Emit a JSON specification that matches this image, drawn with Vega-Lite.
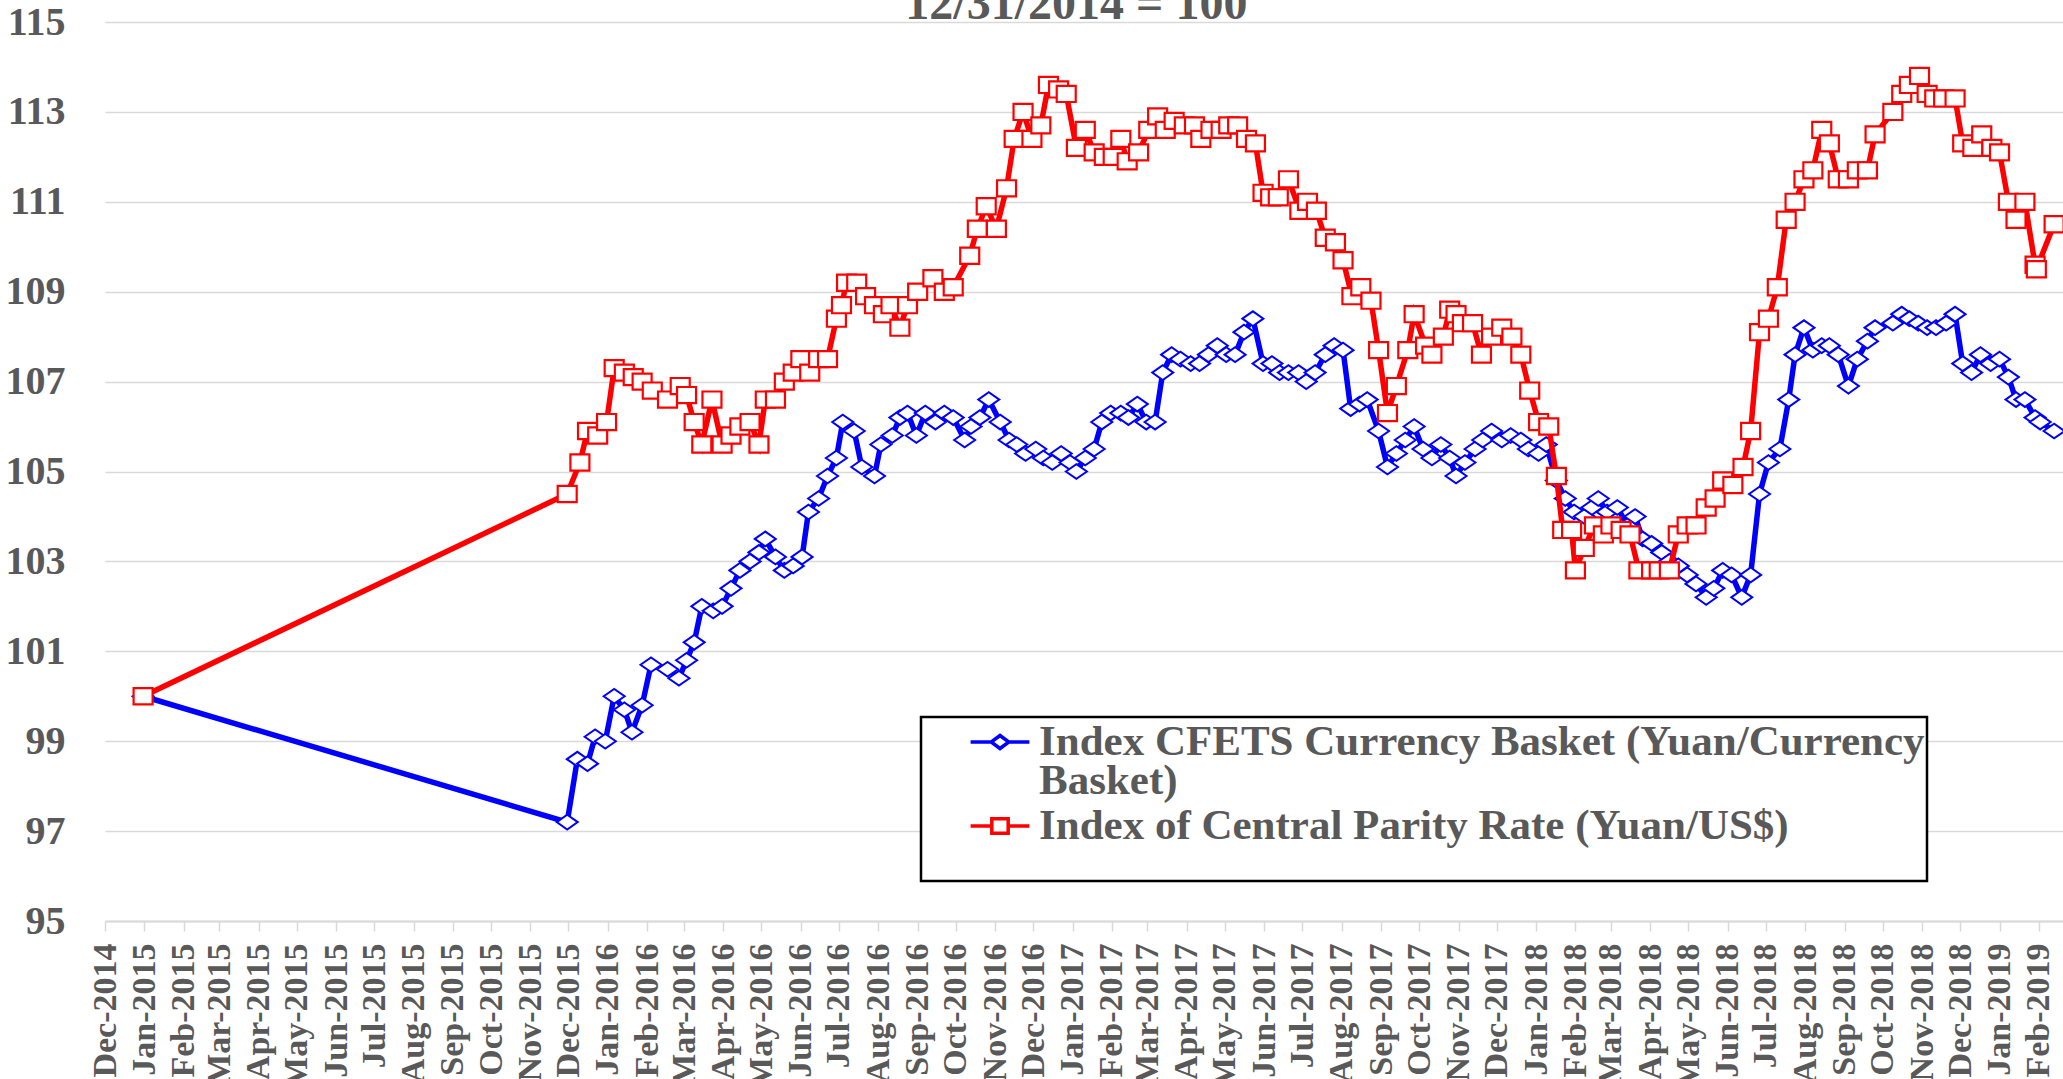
{
"$schema": "https://vega.github.io/schema/vega-lite/v6.json",
"autosize": {"type": "none"},
"width": 1958,
"height": 899,
"padding": {"left": 105, "top": 22, "right": 0, "bottom": 158},
"background": "white",
"config": {"view": {"stroke": null}},
"data": {"values": [
{"date":"2014-12-31","s":"parity","v":100.0},
{"date":"2015-11-30","s":"parity","v":104.5},
{"date":"2015-12-10","s":"parity","v":105.2},
{"date":"2015-12-16","s":"parity","v":105.9},
{"date":"2015-12-24","s":"parity","v":105.8},
{"date":"2015-12-31","s":"parity","v":106.1},
{"date":"2016-01-06","s":"parity","v":107.3},
{"date":"2016-01-14","s":"parity","v":107.2},
{"date":"2016-01-21","s":"parity","v":107.1},
{"date":"2016-01-28","s":"parity","v":107.0},
{"date":"2016-02-05","s":"parity","v":106.8},
{"date":"2016-02-17","s":"parity","v":106.6},
{"date":"2016-02-27","s":"parity","v":106.9},
{"date":"2016-03-03","s":"parity","v":106.7},
{"date":"2016-03-09","s":"parity","v":106.1},
{"date":"2016-03-15","s":"parity","v":105.6},
{"date":"2016-03-23","s":"parity","v":106.6},
{"date":"2016-03-31","s":"parity","v":105.6},
{"date":"2016-04-07","s":"parity","v":105.8},
{"date":"2016-04-14","s":"parity","v":106.0},
{"date":"2016-04-22","s":"parity","v":106.1},
{"date":"2016-04-29","s":"parity","v":105.6},
{"date":"2016-05-04","s":"parity","v":106.6},
{"date":"2016-05-12","s":"parity","v":106.6},
{"date":"2016-05-19","s":"parity","v":107.0},
{"date":"2016-05-26","s":"parity","v":107.2},
{"date":"2016-06-01","s":"parity","v":107.5},
{"date":"2016-06-08","s":"parity","v":107.2},
{"date":"2016-06-15","s":"parity","v":107.5},
{"date":"2016-06-22","s":"parity","v":107.5},
{"date":"2016-06-29","s":"parity","v":108.4},
{"date":"2016-07-03","s":"parity","v":108.7},
{"date":"2016-07-07","s":"parity","v":109.2},
{"date":"2016-07-15","s":"parity","v":109.2},
{"date":"2016-07-22","s":"parity","v":108.9},
{"date":"2016-07-29","s":"parity","v":108.7},
{"date":"2016-08-05","s":"parity","v":108.5},
{"date":"2016-08-11","s":"parity","v":108.7},
{"date":"2016-08-18","s":"parity","v":108.2},
{"date":"2016-08-24","s":"parity","v":108.7},
{"date":"2016-09-01","s":"parity","v":109.0},
{"date":"2016-09-13","s":"parity","v":109.3},
{"date":"2016-09-22","s":"parity","v":109.0},
{"date":"2016-09-29","s":"parity","v":109.1},
{"date":"2016-10-12","s":"parity","v":109.8},
{"date":"2016-10-18","s":"parity","v":110.4},
{"date":"2016-10-25","s":"parity","v":110.9},
{"date":"2016-11-02","s":"parity","v":110.4},
{"date":"2016-11-10","s":"parity","v":111.3},
{"date":"2016-11-16","s":"parity","v":112.4},
{"date":"2016-11-23","s":"parity","v":113.0},
{"date":"2016-11-30","s":"parity","v":112.4},
{"date":"2016-12-07","s":"parity","v":112.7},
{"date":"2016-12-13","s":"parity","v":113.6},
{"date":"2016-12-21","s":"parity","v":113.5},
{"date":"2016-12-27","s":"parity","v":113.4},
{"date":"2017-01-04","s":"parity","v":112.2},
{"date":"2017-01-11","s":"parity","v":112.6},
{"date":"2017-01-18","s":"parity","v":112.1},
{"date":"2017-01-26","s":"parity","v":112.0},
{"date":"2017-02-02","s":"parity","v":112.0},
{"date":"2017-02-08","s":"parity","v":112.4},
{"date":"2017-02-13","s":"parity","v":111.9},
{"date":"2017-02-22","s":"parity","v":112.1},
{"date":"2017-03-02","s":"parity","v":112.6},
{"date":"2017-03-09","s":"parity","v":112.9},
{"date":"2017-03-15","s":"parity","v":112.6},
{"date":"2017-03-22","s":"parity","v":112.8},
{"date":"2017-03-30","s":"parity","v":112.7},
{"date":"2017-04-07","s":"parity","v":112.7},
{"date":"2017-04-12","s":"parity","v":112.4},
{"date":"2017-04-20","s":"parity","v":112.6},
{"date":"2017-04-28","s":"parity","v":112.6},
{"date":"2017-05-04","s":"parity","v":112.7},
{"date":"2017-05-11","s":"parity","v":112.7},
{"date":"2017-05-18","s":"parity","v":112.4},
{"date":"2017-05-25","s":"parity","v":112.3},
{"date":"2017-05-31","s":"parity","v":111.2},
{"date":"2017-06-06","s":"parity","v":111.1},
{"date":"2017-06-12","s":"parity","v":111.1},
{"date":"2017-06-20","s":"parity","v":111.5},
{"date":"2017-06-29","s":"parity","v":110.8},
{"date":"2017-07-05","s":"parity","v":111.0},
{"date":"2017-07-12","s":"parity","v":110.8},
{"date":"2017-07-19","s":"parity","v":110.2},
{"date":"2017-07-27","s":"parity","v":110.1},
{"date":"2017-08-02","s":"parity","v":109.7},
{"date":"2017-08-09","s":"parity","v":108.9},
{"date":"2017-08-16","s":"parity","v":109.1},
{"date":"2017-08-24","s":"parity","v":108.8},
{"date":"2017-08-30","s":"parity","v":107.7},
{"date":"2017-09-06","s":"parity","v":106.3},
{"date":"2017-09-13","s":"parity","v":106.9},
{"date":"2017-09-22","s":"parity","v":107.7},
{"date":"2017-09-27","s":"parity","v":108.5},
{"date":"2017-10-06","s":"parity","v":107.8},
{"date":"2017-10-11","s":"parity","v":107.6},
{"date":"2017-10-20","s":"parity","v":108.0},
{"date":"2017-10-25","s":"parity","v":108.6},
{"date":"2017-10-30","s":"parity","v":108.5},
{"date":"2017-11-04","s":"parity","v":108.3},
{"date":"2017-11-12","s":"parity","v":108.3},
{"date":"2017-11-19","s":"parity","v":107.6},
{"date":"2017-11-27","s":"parity","v":108.0},
{"date":"2017-12-05","s":"parity","v":108.2},
{"date":"2017-12-13","s":"parity","v":108.0},
{"date":"2017-12-20","s":"parity","v":107.6},
{"date":"2017-12-27","s":"parity","v":106.8},
{"date":"2018-01-03","s":"parity","v":106.1},
{"date":"2018-01-11","s":"parity","v":106.0},
{"date":"2018-01-17","s":"parity","v":104.9},
{"date":"2018-01-22","s":"parity","v":103.7},
{"date":"2018-01-29","s":"parity","v":103.7},
{"date":"2018-02-01","s":"parity","v":102.8},
{"date":"2018-02-08","s":"parity","v":103.3},
{"date":"2018-02-16","s":"parity","v":103.8},
{"date":"2018-02-23","s":"parity","v":103.6},
{"date":"2018-03-01","s":"parity","v":103.8},
{"date":"2018-03-09","s":"parity","v":103.7},
{"date":"2018-03-16","s":"parity","v":103.6},
{"date":"2018-03-23","s":"parity","v":102.8},
{"date":"2018-04-02","s":"parity","v":102.8},
{"date":"2018-04-08","s":"parity","v":102.8},
{"date":"2018-04-16","s":"parity","v":102.8},
{"date":"2018-04-23","s":"parity","v":103.6},
{"date":"2018-04-30","s":"parity","v":103.8},
{"date":"2018-05-07","s":"parity","v":103.8},
{"date":"2018-05-15","s":"parity","v":104.2},
{"date":"2018-05-22","s":"parity","v":104.4},
{"date":"2018-05-28","s":"parity","v":104.8},
{"date":"2018-06-05","s":"parity","v":104.7},
{"date":"2018-06-13","s":"parity","v":105.1},
{"date":"2018-06-19","s":"parity","v":105.9},
{"date":"2018-06-26","s":"parity","v":108.1},
{"date":"2018-07-03","s":"parity","v":108.4},
{"date":"2018-07-10","s":"parity","v":109.1},
{"date":"2018-07-17","s":"parity","v":110.6},
{"date":"2018-07-24","s":"parity","v":111.0},
{"date":"2018-07-31","s":"parity","v":111.5},
{"date":"2018-08-07","s":"parity","v":111.7},
{"date":"2018-08-14","s":"parity","v":112.6},
{"date":"2018-08-20","s":"parity","v":112.3},
{"date":"2018-08-27","s":"parity","v":111.5},
{"date":"2018-09-04","s":"parity","v":111.5},
{"date":"2018-09-11","s":"parity","v":111.7},
{"date":"2018-09-19","s":"parity","v":111.7},
{"date":"2018-09-25","s":"parity","v":112.5},
{"date":"2018-10-09","s":"parity","v":113.0},
{"date":"2018-10-16","s":"parity","v":113.4},
{"date":"2018-10-22","s":"parity","v":113.6},
{"date":"2018-10-30","s":"parity","v":113.8},
{"date":"2018-11-05","s":"parity","v":113.4},
{"date":"2018-11-11","s":"parity","v":113.3},
{"date":"2018-11-18","s":"parity","v":113.3},
{"date":"2018-11-27","s":"parity","v":113.3},
{"date":"2018-12-03","s":"parity","v":112.3},
{"date":"2018-12-11","s":"parity","v":112.2},
{"date":"2018-12-18","s":"parity","v":112.5},
{"date":"2018-12-26","s":"parity","v":112.2},
{"date":"2019-01-01","s":"parity","v":112.1},
{"date":"2019-01-08","s":"parity","v":111.0},
{"date":"2019-01-14","s":"parity","v":110.6},
{"date":"2019-01-21","s":"parity","v":111.0},
{"date":"2019-01-29","s":"parity","v":109.6},
{"date":"2019-01-30","s":"parity","v":109.5},
{"date":"2019-02-13","s":"parity","v":110.5},
{"date":"2014-12-31","s":"cfets","v":100.0},
{"date":"2015-11-30","s":"cfets","v":97.2},
{"date":"2015-12-08","s":"cfets","v":98.6},
{"date":"2015-12-16","s":"cfets","v":98.5},
{"date":"2015-12-22","s":"cfets","v":99.1},
{"date":"2015-12-30","s":"cfets","v":99.0},
{"date":"2016-01-06","s":"cfets","v":100.0},
{"date":"2016-01-14","s":"cfets","v":99.7},
{"date":"2016-01-20","s":"cfets","v":99.2},
{"date":"2016-01-28","s":"cfets","v":99.8},
{"date":"2016-02-04","s":"cfets","v":100.7},
{"date":"2016-02-17","s":"cfets","v":100.6},
{"date":"2016-02-26","s":"cfets","v":100.4},
{"date":"2016-03-03","s":"cfets","v":100.8},
{"date":"2016-03-09","s":"cfets","v":101.2},
{"date":"2016-03-15","s":"cfets","v":102.0},
{"date":"2016-03-24","s":"cfets","v":101.9},
{"date":"2016-03-31","s":"cfets","v":102.0},
{"date":"2016-04-07","s":"cfets","v":102.4},
{"date":"2016-04-14","s":"cfets","v":102.8},
{"date":"2016-04-22","s":"cfets","v":103.0},
{"date":"2016-04-29","s":"cfets","v":103.2},
{"date":"2016-05-04","s":"cfets","v":103.5},
{"date":"2016-05-12","s":"cfets","v":103.1},
{"date":"2016-05-19","s":"cfets","v":102.8},
{"date":"2016-05-26","s":"cfets","v":102.9},
{"date":"2016-06-02","s":"cfets","v":103.1},
{"date":"2016-06-07","s":"cfets","v":104.1},
{"date":"2016-06-15","s":"cfets","v":104.4},
{"date":"2016-06-22","s":"cfets","v":104.9},
{"date":"2016-06-29","s":"cfets","v":105.3},
{"date":"2016-07-04","s":"cfets","v":106.1},
{"date":"2016-07-13","s":"cfets","v":105.9},
{"date":"2016-07-19","s":"cfets","v":105.1},
{"date":"2016-07-29","s":"cfets","v":104.9},
{"date":"2016-08-03","s":"cfets","v":105.6},
{"date":"2016-08-12","s":"cfets","v":105.8},
{"date":"2016-08-18","s":"cfets","v":106.2},
{"date":"2016-08-24","s":"cfets","v":106.3},
{"date":"2016-08-31","s":"cfets","v":105.8},
{"date":"2016-09-07","s":"cfets","v":106.3},
{"date":"2016-09-15","s":"cfets","v":106.1},
{"date":"2016-09-22","s":"cfets","v":106.3},
{"date":"2016-09-29","s":"cfets","v":106.2},
{"date":"2016-10-08","s":"cfets","v":105.7},
{"date":"2016-10-13","s":"cfets","v":106.0},
{"date":"2016-10-20","s":"cfets","v":106.2},
{"date":"2016-10-27","s":"cfets","v":106.6},
{"date":"2016-11-05","s":"cfets","v":106.1},
{"date":"2016-11-12","s":"cfets","v":105.7},
{"date":"2016-11-18","s":"cfets","v":105.6},
{"date":"2016-11-25","s":"cfets","v":105.4},
{"date":"2016-12-03","s":"cfets","v":105.5},
{"date":"2016-12-09","s":"cfets","v":105.3},
{"date":"2016-12-16","s":"cfets","v":105.2},
{"date":"2016-12-23","s":"cfets","v":105.4},
{"date":"2016-12-30","s":"cfets","v":105.2},
{"date":"2017-01-04","s":"cfets","v":105.0},
{"date":"2017-01-11","s":"cfets","v":105.3},
{"date":"2017-01-18","s":"cfets","v":105.5},
{"date":"2017-01-24","s":"cfets","v":106.1},
{"date":"2017-01-31","s":"cfets","v":106.3},
{"date":"2017-02-08","s":"cfets","v":106.3},
{"date":"2017-02-14","s":"cfets","v":106.2},
{"date":"2017-02-21","s":"cfets","v":106.5},
{"date":"2017-02-28","s":"cfets","v":106.1},
{"date":"2017-03-07","s":"cfets","v":106.1},
{"date":"2017-03-13","s":"cfets","v":107.2},
{"date":"2017-03-20","s":"cfets","v":107.6},
{"date":"2017-03-27","s":"cfets","v":107.5},
{"date":"2017-04-04","s":"cfets","v":107.4},
{"date":"2017-04-11","s":"cfets","v":107.4},
{"date":"2017-04-18","s":"cfets","v":107.6},
{"date":"2017-04-25","s":"cfets","v":107.8},
{"date":"2017-05-02","s":"cfets","v":107.6},
{"date":"2017-05-09","s":"cfets","v":107.6},
{"date":"2017-05-16","s":"cfets","v":108.1},
{"date":"2017-05-23","s":"cfets","v":108.4},
{"date":"2017-05-31","s":"cfets","v":107.4},
{"date":"2017-06-07","s":"cfets","v":107.4},
{"date":"2017-06-13","s":"cfets","v":107.2},
{"date":"2017-06-20","s":"cfets","v":107.2},
{"date":"2017-06-28","s":"cfets","v":107.2},
{"date":"2017-07-04","s":"cfets","v":107.0},
{"date":"2017-07-11","s":"cfets","v":107.2},
{"date":"2017-07-19","s":"cfets","v":107.6},
{"date":"2017-07-26","s":"cfets","v":107.8},
{"date":"2017-08-02","s":"cfets","v":107.7},
{"date":"2017-08-08","s":"cfets","v":106.4},
{"date":"2017-08-15","s":"cfets","v":106.5},
{"date":"2017-08-21","s":"cfets","v":106.6},
{"date":"2017-08-30","s":"cfets","v":105.9},
{"date":"2017-09-06","s":"cfets","v":105.1},
{"date":"2017-09-13","s":"cfets","v":105.4},
{"date":"2017-09-20","s":"cfets","v":105.7},
{"date":"2017-09-27","s":"cfets","v":106.0},
{"date":"2017-10-04","s":"cfets","v":105.5},
{"date":"2017-10-11","s":"cfets","v":105.3},
{"date":"2017-10-18","s":"cfets","v":105.6},
{"date":"2017-10-25","s":"cfets","v":105.3},
{"date":"2017-10-30","s":"cfets","v":104.9},
{"date":"2017-11-06","s":"cfets","v":105.2},
{"date":"2017-11-14","s":"cfets","v":105.5},
{"date":"2017-11-20","s":"cfets","v":105.7},
{"date":"2017-11-27","s":"cfets","v":105.9},
{"date":"2017-12-05","s":"cfets","v":105.7},
{"date":"2017-12-12","s":"cfets","v":105.8},
{"date":"2017-12-20","s":"cfets","v":105.7},
{"date":"2017-12-26","s":"cfets","v":105.5},
{"date":"2018-01-03","s":"cfets","v":105.4},
{"date":"2018-01-09","s":"cfets","v":105.6},
{"date":"2018-01-17","s":"cfets","v":104.8},
{"date":"2018-01-24","s":"cfets","v":104.4},
{"date":"2018-01-31","s":"cfets","v":104.1},
{"date":"2018-02-08","s":"cfets","v":104.0},
{"date":"2018-02-14","s":"cfets","v":104.2},
{"date":"2018-02-19","s":"cfets","v":104.4},
{"date":"2018-02-26","s":"cfets","v":104.1},
{"date":"2018-03-06","s":"cfets","v":104.2},
{"date":"2018-03-14","s":"cfets","v":103.8},
{"date":"2018-03-20","s":"cfets","v":104.0},
{"date":"2018-03-26","s":"cfets","v":103.5},
{"date":"2018-04-02","s":"cfets","v":103.4},
{"date":"2018-04-10","s":"cfets","v":103.2},
{"date":"2018-04-16","s":"cfets","v":103.0},
{"date":"2018-04-23","s":"cfets","v":102.9},
{"date":"2018-04-30","s":"cfets","v":102.7},
{"date":"2018-05-07","s":"cfets","v":102.5},
{"date":"2018-05-15","s":"cfets","v":102.2},
{"date":"2018-05-21","s":"cfets","v":102.4},
{"date":"2018-05-28","s":"cfets","v":102.8},
{"date":"2018-06-04","s":"cfets","v":102.7},
{"date":"2018-06-12","s":"cfets","v":102.2},
{"date":"2018-06-19","s":"cfets","v":102.7},
{"date":"2018-06-26","s":"cfets","v":104.5},
{"date":"2018-07-03","s":"cfets","v":105.2},
{"date":"2018-07-12","s":"cfets","v":105.5},
{"date":"2018-07-19","s":"cfets","v":106.6},
{"date":"2018-07-24","s":"cfets","v":107.6},
{"date":"2018-07-31","s":"cfets","v":108.2},
{"date":"2018-08-07","s":"cfets","v":107.7},
{"date":"2018-08-14","s":"cfets","v":107.8},
{"date":"2018-08-20","s":"cfets","v":107.8},
{"date":"2018-08-27","s":"cfets","v":107.6},
{"date":"2018-09-04","s":"cfets","v":106.9},
{"date":"2018-09-11","s":"cfets","v":107.5},
{"date":"2018-09-19","s":"cfets","v":107.9},
{"date":"2018-09-25","s":"cfets","v":108.2},
{"date":"2018-10-09","s":"cfets","v":108.3},
{"date":"2018-10-16","s":"cfets","v":108.5},
{"date":"2018-10-22","s":"cfets","v":108.4},
{"date":"2018-10-29","s":"cfets","v":108.3},
{"date":"2018-11-05","s":"cfets","v":108.2},
{"date":"2018-11-12","s":"cfets","v":108.2},
{"date":"2018-11-20","s":"cfets","v":108.3},
{"date":"2018-11-27","s":"cfets","v":108.5},
{"date":"2018-12-03","s":"cfets","v":107.4},
{"date":"2018-12-10","s":"cfets","v":107.2},
{"date":"2018-12-17","s":"cfets","v":107.6},
{"date":"2018-12-25","s":"cfets","v":107.4},
{"date":"2019-01-01","s":"cfets","v":107.5},
{"date":"2019-01-08","s":"cfets","v":107.1},
{"date":"2019-01-14","s":"cfets","v":106.6},
{"date":"2019-01-21","s":"cfets","v":106.6},
{"date":"2019-01-29","s":"cfets","v":106.2},
{"date":"2019-02-02","s":"cfets","v":106.1},
{"date":"2019-02-13","s":"cfets","v":105.9}
]},
"encoding": {
  "x": {"field": "date", "type": "temporal",
    "scale": {"type": "utc", "domain": [{"year": 2014, "month": 12, "date": 1, "utc": true}, {"year": 2019, "month": 2, "date": 20, "utc": true}]},
    "axis": {"title": null, "labelExpr": "utcFormat(datum.value, '%b-%Y')", "tickCount": {"interval": "month", "step": 1},
      "labelAngle": -90, "labelFont": "Liberation Serif", "labelFontWeight": "bold", "labelFontSize": 34, "labelColor": "#595959",
      "labelOverlap": false, "labelFlush": false, "labelBound": false, "labelPadding": 12,
      "grid": false, "domainColor": "#d9d9d9", "domainWidth": 2, "tickColor": "#d9d9d9", "tickWidth": 1.5, "tickSize": 10}},
  "y": {"field": "v", "type": "quantitative",
    "scale": {"domain": [95, 115], "nice": false, "zero": false},
    "axis": {"title": null, "values": [95, 97, 99, 101, 103, 105, 107, 109, 111, 113, 115],
      "labelFont": "Liberation Serif", "labelFontWeight": "bold", "labelFontSize": 40, "labelColor": "#595959",
      "labelPadding": 40, "ticks": false, "domain": false, "grid": true, "gridColor": "#d9d9d9", "gridWidth": 1.5}},
  "color": {"field": "s", "type": "nominal",
    "scale": {"domain": ["cfets", "parity"], "range": ["#0000ff", "#ff0000"]},
    "legend": {"orient": "none", "legendX": 816, "legendY": 695, "title": "\u00a0", "titleOrient": "bottom", "titleFontSize": 32, "titlePadding": 0, "direction": "vertical",
      "labelFont": "Liberation Serif", "labelFontWeight": "bold", "labelFontSize": 43, "labelColor": "#595959", "labelLimit": 3000,
      "labelExpr": "datum.value == 'cfets' ? ['Index CFETS Currency Basket (Yuan/Currency', 'Basket)'] : 'Index of Central Parity Rate (Yuan/US$)'",
      "symbolSize": 1764, "symbolStrokeWidth": 3.5, "symbolFillColor": "white", "symbolType": "M-1.4,0H-0.42M0.42,0H1.4M0,-0.31L0.42,0L0,0.31L-0.42,0Z",
      "symbolOffset": 54, "labelOffset": 16,
      "strokeColor": "black", "fillColor": "white", "padding": 2, "rowPadding": 0,
      "encode": {
        "legend": {"update": {"strokeWidth": {"value": 2.5}}},
        "labels": {"update": {"lineHeight": {"value": 39}}},
        "symbols": {"update": {"shape": {"signal": "datum.value == 'cfets' ? 'M-1.4,0H-0.42M0.42,0H1.4M0,-0.31L0.42,0L0,0.31L-0.42,0Z' : 'M-1.4,0H-0.39M0.39,0H1.4M-0.39,-0.34H0.39V0.34H-0.39Z'"}, "fill": {"value": "#ffffff"}, "stroke": {"scale": "color", "field": "value"}}}}}}
},
"layer": [
  {"transform": [{"filter": "datum.s == 'cfets'"}], "mark": {"type": "line", "strokeWidth": 5.5}},
  {"transform": [{"filter": "datum.s == 'cfets'"}], "mark": {"type": "point", "shape": "M-1,0L0,-0.7L1,0L0,0.7Z", "size": 441, "filled": false, "fill": "white", "fillOpacity": 1, "strokeWidth": 2, "opacity": 1}},
  {"transform": [{"filter": "datum.s == 'parity'"}], "mark": {"type": "line", "strokeWidth": 5.5}},
  {"transform": [{"filter": "datum.s == 'parity'"}], "mark": {"type": "point", "shape": "M-1,-0.85H1V0.85H-1Z", "size": 361, "filled": false, "fill": "white", "fillOpacity": 1, "strokeWidth": 2.2, "opacity": 1}},
  {"data": {"values": [{"t": "12/31/2014 = 100", "d": "2017-01-04", "y": 115.067}]},
   "mark": {"type": "text", "font": "Liberation Serif", "fontWeight": "bold", "fontSize": 48, "baseline": "alphabetic", "align": "center", "clip": false},
   "encoding": {"x": {"field": "d", "type": "temporal"}, "y": {"field": "y", "type": "quantitative"}, "text": {"field": "t", "type": "nominal"}, "color": {"value": "#595959"}}}
]
}
